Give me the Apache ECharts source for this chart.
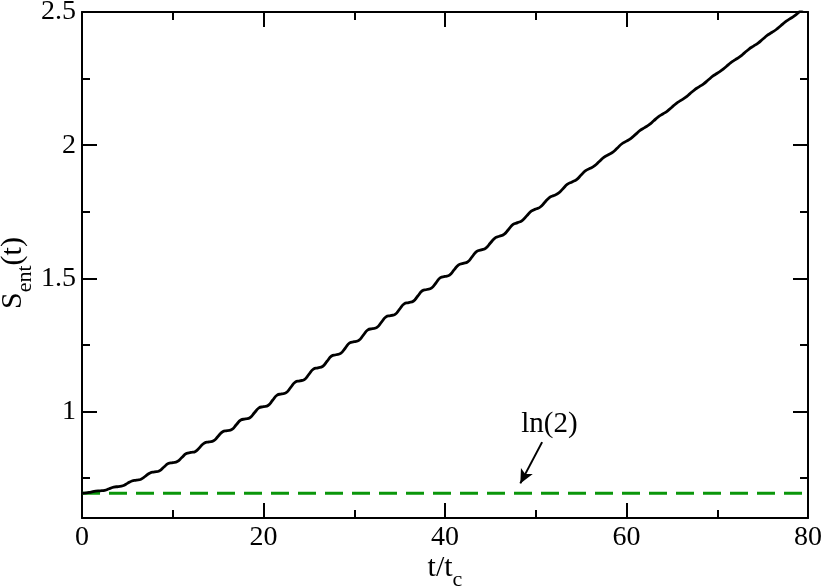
<!DOCTYPE html>
<html>
<head>
<meta charset="utf-8">
<script src="https://cdn.jsdelivr.net/npm/echarts@6/dist/echarts.min.js"></script>
<style>
  html, body { margin: 0; padding: 0; background: #fff; }
  #chart { width: 822px; height: 587px; }
</style>
</head>
<body>
<div id="chart"></div>
<script>
// time axis t/t_c, sampled every half unit
const tValues = [
  0, 0.5, 1, 1.5, 2, 2.5, 3, 3.5, 4, 4.5, 5, 5.5, 6, 6.5, 7, 7.5, 8, 8.5, 9, 9.5,
  10, 10.5, 11, 11.5, 12, 12.5, 13, 13.5, 14, 14.5, 15, 15.5, 16, 16.5, 17, 17.5, 18, 18.5, 19, 19.5,
  20, 20.5, 21, 21.5, 22, 22.5, 23, 23.5, 24, 24.5, 25, 25.5, 26, 26.5, 27, 27.5, 28, 28.5, 29, 29.5,
  30, 30.5, 31, 31.5, 32, 32.5, 33, 33.5, 34, 34.5, 35, 35.5, 36, 36.5, 37, 37.5, 38, 38.5, 39, 39.5,
  40, 40.5, 41, 41.5, 42, 42.5, 43, 43.5, 44, 44.5, 45, 45.5, 46, 46.5, 47, 47.5, 48, 48.5, 49, 49.5,
  50, 50.5, 51, 51.5, 52, 52.5, 53, 53.5, 54, 54.5, 55, 55.5, 56, 56.5, 57, 57.5, 58, 58.5, 59, 59.5,
  60, 60.5, 61, 61.5, 62, 62.5, 63, 63.5, 64, 64.5, 65, 65.5, 66, 66.5, 67, 67.5, 68, 68.5, 69, 69.5,
  70, 70.5, 71, 71.5, 72, 72.5, 73, 73.5, 74, 74.5, 75, 75.5, 76, 76.5, 77, 77.5, 78, 78.5, 79, 79.5,
  80
];
// S_ent(t) (small wiggle of period 2)
const sentValues = [
  0.693, 0.6942, 0.6975, 0.7008, 0.702, 0.704, 0.710, 0.716,
  0.718, 0.721, 0.730, 0.739, 0.742, 0.7458, 0.7575, 0.7693,
  0.773, 0.7768, 0.7905, 0.8043, 0.808, 0.812, 0.827, 0.842,
  0.846, 0.850, 0.866, 0.882, 0.886, 0.890, 0.907, 0.924,
  0.928, 0.932, 0.950, 0.968, 0.972, 0.9765, 0.995, 1.0135,
  1.018, 1.0225, 1.042, 1.0615, 1.066, 1.0708, 1.0905, 1.1103,
  1.115, 1.1198, 1.1395, 1.1593, 1.164, 1.1688, 1.1885, 1.2083,
  1.213, 1.2178, 1.2375, 1.2573, 1.262, 1.2668, 1.2865, 1.3063,
  1.311, 1.3158, 1.3355, 1.3553, 1.360, 1.3648, 1.3845, 1.4043,
  1.409, 1.4138, 1.4335, 1.4533, 1.458, 1.4628, 1.4825, 1.5023,
  1.507, 1.5123, 1.5315, 1.5508, 1.556, 1.5618, 1.5815, 1.6013,
  1.607, 1.6138, 1.6325, 1.6513, 1.658, 1.6648, 1.6835, 1.7023,
  1.709, 1.7168, 1.7345, 1.7523, 1.760, 1.7678, 1.7855, 1.8033,
  1.811, 1.8198, 1.8365, 1.8533, 1.862, 1.8708, 1.8875, 1.9043,
  1.913, 1.9228, 1.9385, 1.9543, 1.964, 1.9738, 1.9895, 2.0053,
  2.015, 2.0258, 2.0405, 2.0553, 2.066, 2.0768, 2.0915, 2.1063,
  2.117, 2.1278, 2.1425, 2.1573, 2.168, 2.1793, 2.1935, 2.2078,
  2.219, 2.2303, 2.2445, 2.2588, 2.270, 2.2813, 2.2955, 2.3098,
  2.321, 2.3323, 2.3465, 2.3608, 2.372, 2.3833, 2.3975, 2.4118,
  2.423, 2.4343, 2.4485, 2.4628, 2.474, 2.4853, 2.4995, 2.5138,
  2.525
];
// ln(2) reference line
const lnTwoT = [0, 80];
const lnTwoS = [0.693, 0.693];

// axis ticks
const yMajorTicks = [1, 1.5, 2, 2.5];
const yMinorTicks = [0.75, 1.25, 1.75, 2.25];

// annotation (data coords)
const arrowFrom = [50.7, 0.885];
const arrowTo = [48.3, 0.73];
const lnLabelAt = [51.5, 0.951];

const FONT = "'Liberation Serif', 'DejaVu Serif', serif";
const BLACK = "#000";

const chart = echarts.init(document.getElementById("chart"), null, { renderer: "canvas" });

const tickStyle = { color: BLACK, width: 2 };
const lineStyle = { color: BLACK, width: 2 };

// rich styles for sub-scripted axis names, s is a spacer that makes the line tall
const nameRich = {
  a: { fontFamily: FONT, fontSize: 30, color: BLACK, verticalAlign: "top", lineHeight: 30 },
  b: { fontFamily: FONT, fontSize: 22, color: BLACK, verticalAlign: "bottom", lineHeight: 22 },
  s: { fontFamily: FONT, fontSize: 10, color: BLACK, lineHeight: 38 }
};

const option = {
  animation: false,
  backgroundColor: "#fff",
  grid: { left: 82, right: 14, top: 12, bottom: 69, containLabel: false, outerBoundsMode: "none" },
  xAxis: [
    {
      type: "value",
      position: "bottom",
      min: 0,
      max: 80,
      interval: 20,
      axisLine: { show: true, onZero: false, lineStyle: lineStyle },
      axisTick: { show: true, inside: true, length: 15, lineStyle: tickStyle },
      minorTick: { show: true, splitNumber: 2, length: 8, lineStyle: tickStyle },
      splitLine: { show: false },
      axisLabel: { color: BLACK, fontFamily: FONT, fontSize: 28, margin: 6 },
      name: "{s|\u200b}{a|t/t}{b|c}",
      nameLocation: "middle",
      nameGap: 35,
      nameMoveOverlap: false,
      nameTextStyle: { rich: nameRich }
    },
    {
      type: "value",
      position: "top",
      min: 0,
      max: 80,
      interval: 20,
      axisLine: { show: true, onZero: false, lineStyle: lineStyle },
      axisTick: { show: true, inside: true, length: 15, lineStyle: tickStyle },
      minorTick: { show: true, splitNumber: 2, length: 8, lineStyle: tickStyle },
      splitLine: { show: false },
      axisLabel: { show: false }
    }
  ],
  yAxis: [
    {
      type: "value",
      position: "left",
      min: 0.6,
      max: 2.5,
      axisLine: { show: true, onZero: false, lineStyle: lineStyle },
      axisTick: { show: true, inside: true, length: 15, lineStyle: tickStyle, customValues: yMajorTicks },
      splitLine: { show: false },
      axisLabel: { color: BLACK, fontFamily: FONT, fontSize: 28, margin: 6, customValues: yMajorTicks },
      name: "{s|\u200b}{a|S}{b|ent}{a|(t)}",
      nameLocation: "middle",
      nameRotate: 90,
      nameGap: 46,
      nameMoveOverlap: false,
      nameTextStyle: { rich: nameRich, padding: [0, 16, 0, 0] }
    },
    {
      type: "value",
      position: "left",
      min: 0.6,
      max: 2.5,
      axisLine: { show: false, onZero: false },
      axisTick: { show: true, inside: true, length: 8, lineStyle: tickStyle, customValues: yMinorTicks },
      splitLine: { show: false },
      axisLabel: { show: false }
    },
    {
      type: "value",
      position: "right",
      min: 0.6,
      max: 2.5,
      axisLine: { show: true, onZero: false, lineStyle: lineStyle },
      axisTick: { show: true, inside: true, length: 15, lineStyle: tickStyle, customValues: yMajorTicks },
      splitLine: { show: false },
      axisLabel: { show: false }
    },
    {
      type: "value",
      position: "right",
      min: 0.6,
      max: 2.5,
      axisLine: { show: false, onZero: false },
      axisTick: { show: true, inside: true, length: 8, lineStyle: tickStyle, customValues: yMinorTicks },
      splitLine: { show: false },
      axisLabel: { show: false }
    }
  ],
  series: [
    {
      name: "ln2",
      type: "line",
      data: lnTwoT.map((t, i) => [t, lnTwoS[i]]),
      showSymbol: false,
      symbol: "none",
      lineStyle: { color: "#0a960a", width: 3, type: [18, 9] },
      z: 2,
      markLine: {
        silent: true,
        symbol: ["none", "arrow"],
        symbolSize: [10, 14],
        label: { show: false },
        lineStyle: { color: BLACK, width: 2, type: "solid" },
        data: [[{ coord: arrowFrom }, { coord: arrowTo }]]
      }
    },
    {
      name: "Sent",
      type: "line",
      data: tValues.map((t, i) => [t, sentValues[i]]),
      showSymbol: false,
      symbol: "none",
      smooth: 0.5,
      clip: true,
      lineStyle: { color: BLACK, width: 2.8 },
      z: 3
    }
  ]
};

chart.setOption(option);

// "ln(2)" label placed at a data position
const p = chart.convertToPixel({ xAxisIndex: 0, yAxisIndex: 0 }, lnLabelAt);
chart.setOption({
  graphic: [
    {
      type: "text",
      x: p[0],
      y: p[1],
      style: {
        text: "ln(2)",
        fontFamily: FONT,
        fontSize: 29,
        fill: BLACK,
        align: "center",
        verticalAlign: "middle"
      }
    }
  ]
});
</script>
</body>
</html>
